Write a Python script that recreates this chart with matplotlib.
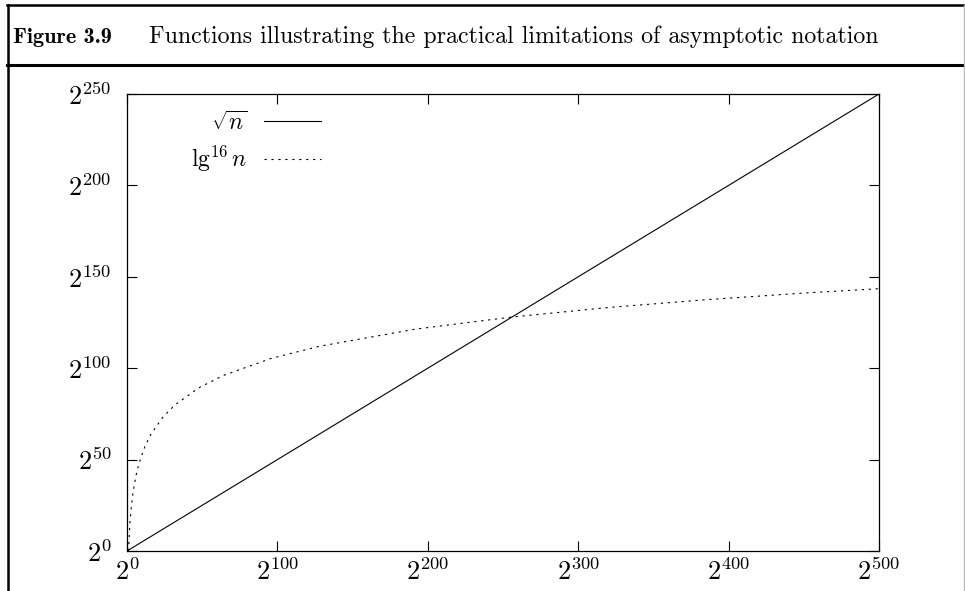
import matplotlib
matplotlib.use('Agg')
import matplotlib.pyplot as plt
from matplotlib.lines import Line2D

plt.rcParams['mathtext.fontset'] = 'cm'
plt.rcParams['font.family'] = 'cmr10'
plt.rcParams['axes.formatter.use_mathtext'] = True
plt.rcParams['lines.scale_dashes'] = False

# exponents of 2
sqrt_x = [0, 500]
sqrt_y = [0, 250]

lg16_x = [1, 2, 3, 4, 6, 8, 12, 16, 24, 32, 48, 64, 96, 128, 192, 256, 320, 384, 448, 500]
lg16_y = [0, 16, 25.4, 32, 41.4, 48, 57.4, 64, 73.4, 80, 89.4, 96, 105.4, 112, 121.4, 128,
          133.2, 137.4, 141, 143.5]

x_ticks = [0, 100, 200, 300, 400, 500]
y_ticks = [0, 50, 100, 150, 200, 250]

fig = plt.figure(figsize=(9.65, 5.91), dpi=100)

# outer figure frame and header rule
fig.add_artist(Line2D([7 / 965, 965 / 965], [1 - 5 / 591, 1 - 5 / 591], color='black', lw=1.8))
fig.add_artist(Line2D([7 / 965, 965 / 965], [1 - 65 / 591, 1 - 65 / 591], color='black', lw=2.2))
fig.add_artist(Line2D([8 / 965, 8 / 965], [0, 1 - 5 / 591], color='black', lw=1.8))
fig.add_artist(Line2D([963.5 / 965, 963.5 / 965], [0, 1 - 5 / 591], color='#bbbbbb', lw=1.0))

fig.text(13 / 965, 1 - 43 / 591, 'Figure 3.9', family='cmb10', fontsize=16, va='baseline')
fig.text(149 / 965, 1 - 43 / 591, 'Functions illustrating the practical limitations of asymptotic notation',
         fontsize=17.2, va='baseline')

ax = fig.add_axes([127 / 965, 40 / 591, 752 / 965, 457 / 591])
ax.plot(sqrt_x, sqrt_y, color='black', lw=0.8, label=r'$\sqrt{n}$')
ax.plot(lg16_x, lg16_y, color='black', lw=0.8, linestyle=(0, (1.6, 3.4)), label=r'$\mathrm{lg}^{16}\, n$')

ax.set_xlim(0, 500)
ax.set_ylim(0, 250)
ax.set_xticks(x_ticks)
ax.set_yticks(y_ticks)
ax.set_xticklabels([r'$2^{%d}$' % t for t in x_ticks])
ax.set_yticklabels([r'$2^{%d}$' % t for t in y_ticks])
ax.tick_params(direction='in', length=7, width=0.8, top=True, right=True, labelsize=19)
ax.tick_params(axis='x', pad=5)
ax.tick_params(axis='y', pad=11)
for s in ax.spines.values():
    s.set_linewidth(0.9)

ax.legend(loc='upper right', bbox_to_anchor=((321 - 127) / 752, (551 - 111) / 457), frameon=False,
          markerfirst=False, borderpad=0, borderaxespad=0, fontsize=17, handlelength=2.4,
          handletextpad=0.7, labelspacing=0.4)

fig.savefig('out.png', dpi=100)
